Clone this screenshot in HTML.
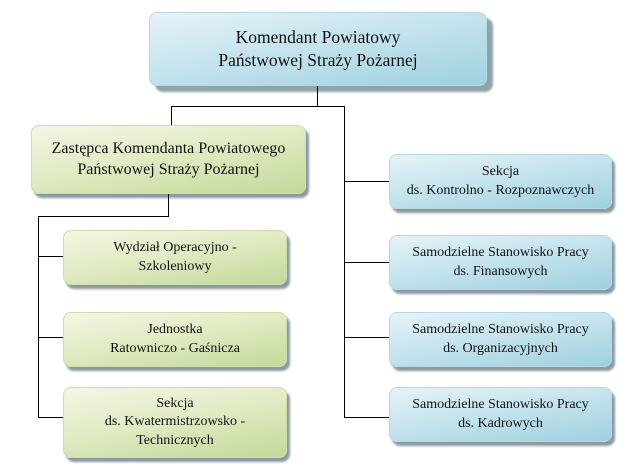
<!DOCTYPE html>
<html><head><meta charset="utf-8"><style>
body{margin:0;width:637px;height:469px;background:#fff;position:relative;overflow:hidden;font-family:"Liberation Serif","Times New Roman",serif;color:#111}
.b{position:absolute;border-radius:8px;display:flex;align-items:center;justify-content:center;text-align:center;box-shadow:3px 4px 2px #8a9aa0;box-sizing:border-box;line-height:1.3;white-space:nowrap}
.bl{background:linear-gradient(170deg,#e6f3f8 0%,#c6e4ee 45%,#9fd0e0 100%);border:1px solid #b5d8e4}
.gr{background:linear-gradient(170deg,#f3f7e6 0%,#dfeac0 50%,#c3d89a 100%);border:1px solid #cfdcab}
.l{position:absolute;background:#000}
.s{font-size:14px}
</style></head><body>
<div class="b bl" style="left:149px;top:12px;width:338px;height:74px;font-size:17.5px;box-shadow:6px 6px 2px #8fa3ab">Komendant Powiatowy<br>Państwowej Straży Pożarnej</div>
<div class="l" style="left:317px;top:86px;width:1px;height:21px"></div>
<div class="l" style="left:171px;top:106px;width:174px;height:1px"></div>
<div class="l" style="left:171px;top:106px;width:1px;height:19px"></div>
<div class="l" style="left:344px;top:106px;width:1px;height:311px"></div>
<div class="b gr" style="left:31px;top:125px;width:275px;height:69px;font-size:16px">Zastępca Komendanta Powiatowego<br>Państwowej Straży Pożarnej</div>
<div class="l" style="left:168px;top:194px;width:1px;height:22px"></div>
<div class="l" style="left:38px;top:216px;width:131px;height:1px"></div>
<div class="l" style="left:38px;top:216px;width:1px;height:201px"></div>
<div class="l" style="left:38px;top:256px;width:25px;height:1px"></div>
<div class="l" style="left:38px;top:337px;width:25px;height:1px"></div>
<div class="l" style="left:38px;top:417px;width:25px;height:1px"></div>
<div class="l" style="left:344px;top:181px;width:45px;height:1px"></div>
<div class="l" style="left:344px;top:262px;width:45px;height:1px"></div>
<div class="l" style="left:344px;top:337px;width:45px;height:1px"></div>
<div class="l" style="left:344px;top:417px;width:45px;height:1px"></div>
<div class="b gr s" style="left:63px;top:230px;width:224px;height:55px">Wydział Operacyjno -<br>Szkoleniowy</div>
<div class="b gr s" style="left:63px;top:312px;width:224px;height:55px">Jednostka<br>Ratowniczo - Gaśnicza</div>
<div class="b gr s" style="left:63px;top:387px;width:224px;height:71px">Sekcja<br>ds. Kwatermistrzowsko -<br>Technicznych</div>
<div class="b bl s" style="left:389px;top:154px;width:223px;height:55px">Sekcja<br>ds. Kontrolno - Rozpoznawczych</div>
<div class="b bl s" style="left:389px;top:235px;width:223px;height:55px">Samodzielne Stanowisko Pracy<br>ds. Finansowych</div>
<div class="b bl s" style="left:389px;top:312px;width:223px;height:55px">Samodzielne Stanowisko Pracy<br>ds. Organizacyjnych</div>
<div class="b bl s" style="left:389px;top:387px;width:223px;height:55px">Samodzielne Stanowisko Pracy<br>ds. Kadrowych</div>
</body></html>
